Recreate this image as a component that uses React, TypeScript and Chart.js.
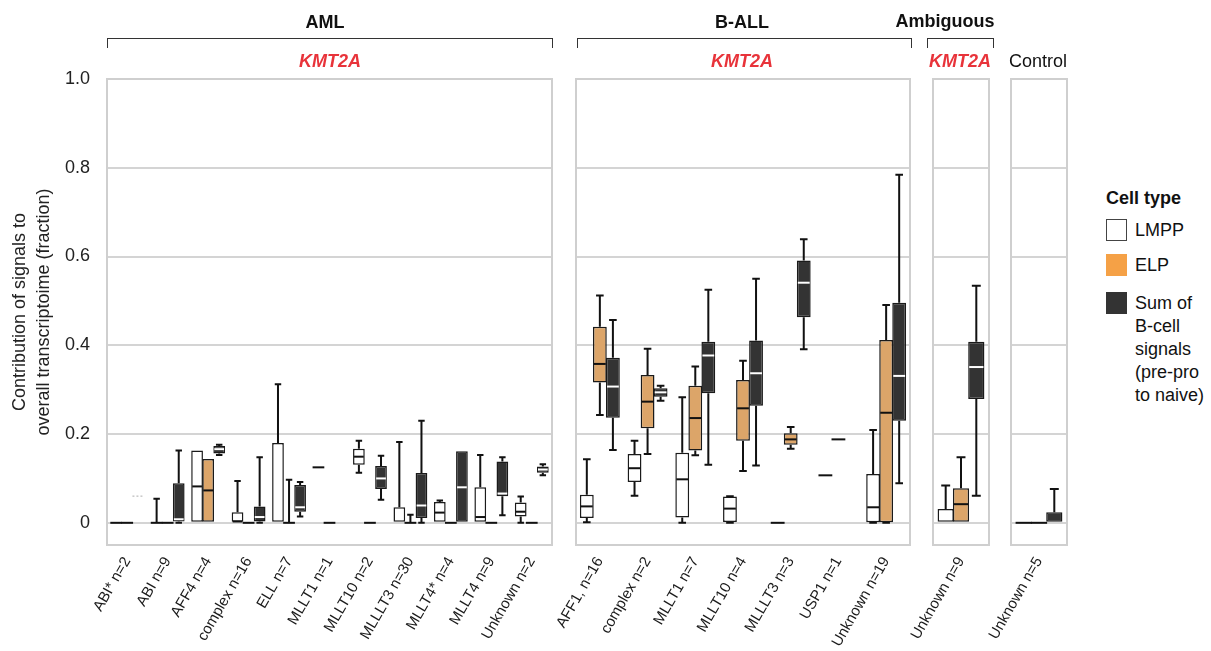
import React, { useEffect, useRef } from 'react';
import { Chart, registerables } from 'chart.js';

Chart.register(...registerables);

const FONT = '"Liberation Sans", Arial, Helvetica, sans-serif';
Chart.defaults.font.family = FONT;
Chart.defaults.color = '#222';

type Stat = number[] | null; // [min, q1, median, q3, max]

// ---------- DATA ----------
const amlCategories = ['ABI* n=2', 'ABI n=9', 'AFF4 n=4', 'complex n=16', 'ELL n=7', 'MLLT1 n=1', 'MLLT10 n=2', 'MLLLT3 n=30', 'MLLT4* n=4', 'MLLT4 n=9', 'Unknown n=2'];
const amlLMPP: Stat[] = [
  [0, 0, 0, 0, 0],
  [0, 0, 0, 0, 0.054],
  [0, 0, 0.082, 0.163, 0.163],
  [0, 0, 0.003, 0.024, 0.094],
  [0, 0, 0, 0.18, 0.312],
  [0.125, 0.125, 0.125, 0.125, 0.125],
  [0.113, 0.131, 0.149, 0.167, 0.185],
  [0, 0, 0, 0.035, 0.182],
  [0, 0, 0.023, 0.047, 0.05],
  [0, 0, 0.013, 0.08, 0.153],
  [0, 0.014, 0.025, 0.046, 0.059],
];
const amlELP: Stat[] = [
  [0, 0, 0, 0, 0],
  [0, 0, 0, 0, 0],
  [0, 0, 0.073, 0.144, 0.144],
  [0, 0, 0, 0, 0],
  [0, 0, 0, 0, 0.097],
  [0, 0, 0, 0, 0],
  [0, 0, 0, 0, 0],
  [0, 0, 0, 0, 0.018],
  [0, 0, 0, 0, 0],
  [0, 0, 0, 0, 0],
  [0, 0, 0, 0, 0],
];
const amlSum: Stat[] = [
  [0.06, 0.06, 0.06, 0.06, 0.06],
  [0, 0.003, 0.008, 0.089, 0.163],
  [0.153, 0.156, 0.166, 0.173, 0.176],
  [0, 0.003, 0.013, 0.037, 0.148],
  [0.014, 0.025, 0.035, 0.085, 0.092],
  null,
  [0.052, 0.076, 0.1, 0.128, 0.151],
  [0, 0.011, 0.039, 0.112, 0.23],
  [0, 0, 0.08, 0.161, 0.161],
  [0.017, 0.06, 0.066, 0.138, 0.148],
  [0.107, 0.113, 0.12, 0.127, 0.132],
];

const ballCategories = ['AFF1, n=16', 'complex n=2', 'MLLT1 n=7', 'MLLT10 n=4', 'MLLLT3 n=3', 'USP1 n=1', 'Unknown n=19'];
const ballLMPP: Stat[] = [
  [0.001, 0.011, 0.037, 0.063, 0.143],
  [0.061, 0.092, 0.123, 0.155, 0.185],
  [0, 0.012, 0.098, 0.158, 0.283],
  [0, 0.002, 0.032, 0.059, 0.06],
  [0, 0, 0, 0, 0],
  [0.107, 0.107, 0.107, 0.107, 0.107],
  [0, 0.001, 0.035, 0.11, 0.209],
];
const ballELP: Stat[] = [
  [0.243, 0.316, 0.358, 0.442, 0.512],
  [0.155, 0.213, 0.273, 0.333, 0.392],
  [0.152, 0.163, 0.236, 0.309, 0.352],
  [0.117, 0.185, 0.258, 0.322, 0.365],
  [0.167, 0.176, 0.188, 0.202, 0.216],
  [0.188, 0.188, 0.188, 0.188, 0.188],
  [0, 0.001, 0.248, 0.412, 0.491],
];
const ballSum: Stat[] = [
  [0.164, 0.237, 0.307, 0.372, 0.457],
  [0.275, 0.284, 0.294, 0.303, 0.309],
  [0.131, 0.292, 0.377, 0.408, 0.525],
  [0.129, 0.264, 0.337, 0.411, 0.55],
  [0.391, 0.463, 0.541, 0.591, 0.639],
  null,
  [0.089, 0.23, 0.331, 0.496, 0.784],
];

const ambCategories = ['Unknown n=9'];
const ambLMPP: Stat[] = [[0, 0, 0, 0.031, 0.084]];
const ambELP: Stat[] = [[0, 0, 0.042, 0.078, 0.148]];
const ambSum: Stat[] = [[0.061, 0.279, 0.351, 0.408, 0.534]];

const ctrlCategories = ['Unknown n=5'];
const ctrlLMPP: Stat[] = [[0, 0, 0, 0, 0]];
const ctrlELP: Stat[] = [[0, 0, 0, 0, 0]];
const ctrlSum: Stat[] = [[0, 0, 0, 0.024, 0.076]];

const yTickValues = [0, 0.2, 0.4, 0.6, 0.8, 1.0];
const cellTypes = ['LMPP', 'ELP', 'Sum of B-cell signals (pre-pro to naive)'];
// ---------------------------

const boxFill = ['#ffffff', '#dca569', '#333333'];
const medianColor = ['#111111', '#111111', '#ffffff'];

const TOP = 79;
const BOTTOM = 545;
const H = 651;

const boxPlugin = {
  id: 'boxWhisker',
  beforeDatasetsDraw(chart: any) {
    const ctx = chart.ctx;
    const ys = chart.scales.y;
    chart.data.datasets.forEach((ds: any, di: number) => {
      const meta = chart.getDatasetMeta(di);
      ds.stats.forEach((s: Stat, i: number) => {
        if (!s) return;
        const el = meta.data[i];
        const x = el.x;
        const cap = el.width * 0.55;
        ctx.save();
        ctx.strokeStyle = '#111';
        ctx.lineWidth = 2;
        ctx.beginPath();
        if (s[4] > s[3]) {
          const a = ys.getPixelForValue(s[3]);
          const b = ys.getPixelForValue(s[4]);
          ctx.moveTo(x, a); ctx.lineTo(x, b);
          ctx.moveTo(x - cap / 2, b); ctx.lineTo(x + cap / 2, b);
        }
        if (s[0] < s[1]) {
          const a = ys.getPixelForValue(s[1]);
          const b = ys.getPixelForValue(s[0]);
          ctx.moveTo(x, a); ctx.lineTo(x, b);
          ctx.moveTo(x - cap / 2, b); ctx.lineTo(x + cap / 2, b);
        }
        ctx.stroke();
        ctx.restore();
      });
    });
  },
  afterDatasetsDraw(chart: any) {
    const ctx = chart.ctx;
    const ys = chart.scales.y;
    chart.data.datasets.forEach((ds: any, di: number) => {
      const meta = chart.getDatasetMeta(di);
      ds.stats.forEach((s: Stat, i: number) => {
        if (!s) return;
        const el = meta.data[i];
        const x = el.x;
        const w = el.width;
        ctx.save();
        if (s[1] === s[3]) {
          const py = ys.getPixelForValue(s[1]);
          ctx.beginPath();
          if (di === 2) {
            ctx.strokeStyle = '#c8c8c8';
            ctx.lineWidth = 1.5;
            ctx.setLineDash([2, 2]);
          } else {
            ctx.strokeStyle = '#111';
            ctx.lineWidth = 2;
          }
          ctx.moveTo(x - w / 2, py); ctx.lineTo(x + w / 2, py);
          ctx.stroke();
        } else if (s[2] !== s[1] && s[2] !== s[3]) {
          const py = ys.getPixelForValue(s[2]);
          ctx.beginPath();
          ctx.strokeStyle = medianColor[di];
          ctx.lineWidth = 2;
          ctx.moveTo(x - w / 2 + 1, py); ctx.lineTo(x + w / 2 - 1, py);
          ctx.stroke();
        }
        ctx.restore();
      });
    });
  },
  afterDraw(chart: any) {
    const { ctx, chartArea } = chart;
    ctx.save();
    ctx.strokeStyle = '#cfcfcf';
    ctx.lineWidth = 2;
    ctx.strokeRect(chartArea.left, chartArea.top, chartArea.right - chartArea.left, chartArea.bottom - chartArea.top);
    ctx.restore();
  },
};

interface PanelSpec {
  categories: string[];
  lmpp: Stat[];
  elp: Stat[];
  sum: Stat[];
  left: number;
  right: number;
  showY: boolean;
}

const panels: PanelSpec[] = [
  { categories: amlCategories, lmpp: amlLMPP, elp: amlELP, sum: amlSum, left: 107, right: 552, showY: true },
  { categories: ballCategories, lmpp: ballLMPP, elp: ballELP, sum: ballSum, left: 576, right: 910, showY: false },
  { categories: ambCategories, lmpp: ambLMPP, elp: ambELP, sum: ambSum, left: 933, right: 989, showY: false },
  { categories: ctrlCategories, lmpp: ctrlLMPP, elp: ctrlELP, sum: ctrlSum, left: 1011, right: 1067, showY: false },
];

function Panel({ spec }: { spec: PanelSpec }) {
  const ref = useRef<HTMLCanvasElement>(null);
  const padLeft = spec.showY ? 0 : 100;
  const canvasLeft = spec.showY ? 0 : spec.left - 100;
  const width = spec.right + 20 - canvasLeft;

  useEffect(() => {
    const series = [spec.lmpp, spec.elp, spec.sum];
    const chart = new Chart(ref.current as HTMLCanvasElement, {
      type: 'bar',
      data: {
        labels: spec.categories,
        datasets: series.map((arr, di) => ({
          label: cellTypes[di],
          data: arr.map((s) => (s ? [s[1], s[3]] : null)) as any,
          stats: arr,
          backgroundColor: boxFill[di],
          borderColor: '#1a1a1a',
          borderWidth: 1.5,
          borderSkipped: false,
          categoryPercentage: 0.82,
          barPercentage: 1.06,
        })) as any,
      },
      options: {
        responsive: false,
        animation: false,
        layout: { padding: { top: TOP, bottom: 0, left: padLeft, right: 20 } },
        plugins: { legend: { display: false }, tooltip: { enabled: false } },
        scales: {
          x: {
            type: 'category',
            grid: { display: false },
            border: { display: false },
            ticks: {
              autoSkip: false,
              minRotation: 60,
              maxRotation: 60,
              padding: 1,
              labelOffset: 0,
              color: '#1a1a1a',
              font: { size: 15 },
            },
            afterFit: (s: any) => { s.height = H - BOTTOM; },
          },
          y: {
            min: -0.05,
            max: 1.0,
            grid: { color: '#d4d4d4', lineWidth: 2, drawTicks: false },
            border: { display: false },
            afterBuildTicks: (s: any) => { s.ticks = yTickValues.map((v) => ({ value: v })); },
            ticks: {
              display: spec.showY,
              padding: 17,
              color: '#222',
              font: { size: 18 },
              callback: (v: any) => (Number(v) === 0 ? '0' : Number(v).toFixed(1)),
            },
            title: {
              display: spec.showY,
              text: ['Contribution of signals to', 'overall transcriptoime (fraction)'],
              color: '#222',
              font: { size: 18, lineHeight: 1.35 },
              padding: { top: 8, bottom: 0 },
            },
            afterFit: (s: any) => { s.width = spec.showY ? 107 : 0; },
          },
        },
      } as any,
      plugins: [boxPlugin],
    });
    return () => chart.destroy();
  }, []);

  return (
    <canvas
      ref={ref}
      width={width}
      height={H}
      style={{ position: 'absolute', left: canvasLeft, top: 0, width, height: H }}
    />
  );
}

const txt = (s: string, cx: number, cy: number, style: React.CSSProperties = {}) => (
  <div
    style={{
      position: 'absolute',
      left: cx - 100,
      top: cy - 11,
      width: 200,
      height: 22,
      lineHeight: '22px',
      textAlign: 'center',
      fontSize: 18,
      color: '#111',
      whiteSpace: 'nowrap',
      ...style,
    }}
  >
    {s}
  </div>
);

const bracket = (l: number, r: number) => (
  <div
    style={{
      position: 'absolute',
      left: l,
      top: 38,
      width: r - l,
      height: 10,
      borderTop: '1.5px solid #333',
      borderLeft: '1.5px solid #333',
      borderRight: '1.5px solid #333',
      boxSizing: 'border-box',
    }}
  />
);

const red: React.CSSProperties = { color: '#e8333a', fontStyle: 'italic', fontWeight: 'bold' };

export default function App() {
  return (
    <div style={{ position: 'fixed', left: 0, top: 0, width: 1211, height: 651, background: '#fff', fontFamily: FONT, overflow: 'hidden' }}>
      {panels.map((p, i) => (
        <Panel key={i} spec={p} />
      ))}
      {txt('AML', 325, 22, { fontWeight: 'bold' })}
      {txt('B-ALL', 742, 22, { fontWeight: 'bold' })}
      {txt('Ambiguous', 945, 21, { fontWeight: 'bold' })}
      {bracket(107, 553)}
      {bracket(577, 912)}
      {bracket(927, 994)}
      {txt('KMT2A', 330, 61, red)}
      {txt('KMT2A', 742, 61, red)}
      {txt('KMT2A', 960, 61, red)}
      {txt('Control', 1038, 61)}
      {/* legend */}
      <div style={{ position: 'absolute', left: 1106, top: 187, fontSize: 18, fontWeight: 'bold', lineHeight: '22px', color: '#111' }}>Cell type</div>
      <div style={{ position: 'absolute', left: 1106, top: 219, width: 21, height: 22, border: '1.5px solid #444', boxSizing: 'border-box', background: '#fff' }} />
      <div style={{ position: 'absolute', left: 1135, top: 219, fontSize: 18, lineHeight: '22px', color: '#111' }}>LMPP</div>
      <div style={{ position: 'absolute', left: 1106, top: 254, width: 21, height: 22, background: '#f5a146' }} />
      <div style={{ position: 'absolute', left: 1135, top: 254, fontSize: 18, lineHeight: '22px', color: '#111' }}>ELP</div>
      <div style={{ position: 'absolute', left: 1106, top: 292, width: 21, height: 22, background: '#333' }} />
      <div style={{ position: 'absolute', left: 1135, top: 292, fontSize: 18, lineHeight: '23px', color: '#111' }}>
        Sum of<br />B-cell<br />signals<br />(pre-pro<br />to naive)
      </div>
    </div>
  );
}
